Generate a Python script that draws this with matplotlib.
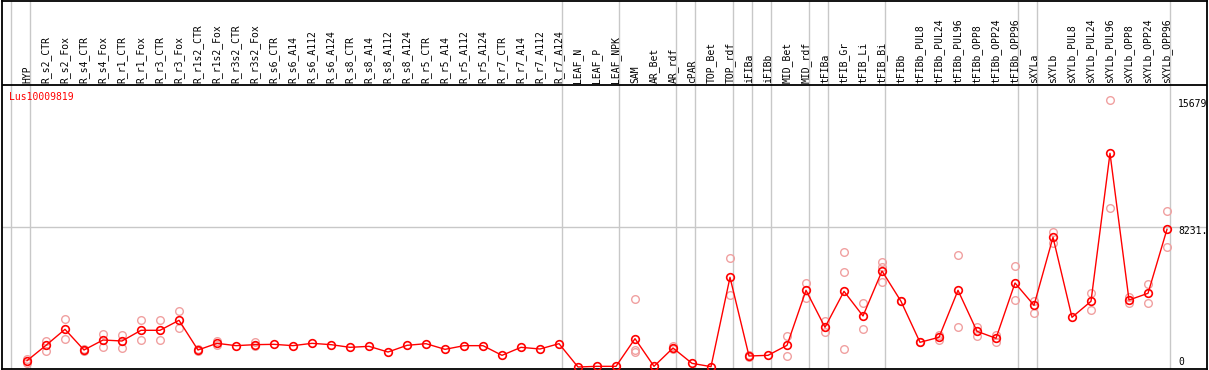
import matplotlib
matplotlib.use('Agg')
import matplotlib.pyplot as plt

# sample names (x axis, drawn as vertical labels on top)
categories = [
    'HYP', 'R_s2_CTR', 'R_s2_Fox', 'R_s4_CTR', 'R_s4_Fox', 'R_r1_CTR', 'R_r1_Fox',
    'R_r3_CTR', 'R_r3_Fox', 'R_r1s2_CTR', 'R_r1s2_Fox', 'R_r3s2_CTR', 'R_r3s2_Fox',
    'R_s6_CTR', 'R_s6_A14', 'R_s6_A112', 'R_s6_A124', 'R_s8_CTR', 'R_s8_A14',
    'R_s8_A112', 'R_s8_A124', 'R_r5_CTR', 'R_r5_A14', 'R_r5_A112', 'R_r5_A124',
    'R_r7_CTR', 'R_r7_A14', 'R_r7_A112', 'R_r7_A124', 'LEAF_N', 'LEAF_P', 'LEAF_NPK',
    'SAM', 'AR_Bet', 'AR_rdf', 'cPAR', 'TOP_Bet', 'TOP_rdf', 'iFIBa', 'iFIBb',
    'MID_Bet', 'MID_rdf', 'tFIBa', 'tFIB_Gr', 'tFIB_Li', 'tFIB_Bi', 'tFIBb',
    'tFIBb_PUL8', 'tFIBb_PUL24', 'tFIBb_PUL96', 'tFIBb_OPP8', 'tFIBb_OPP24',
    'tFIBb_OPP96', 'sXYLa', 'sXYLb', 'sXYLb_PUL8', 'sXYLb_PUL24', 'sXYLb_PUL96',
    'sXYLb_OPP8', 'sXYLb_OPP24', 'sXYLb_OPP96',
]

# mean expression per sample
means = [
    370, 1273, 2213, 998, 1585, 1527, 2155, 2155, 2742, 998, 1390, 1253, 1312,
    1331, 1253, 1390, 1312, 1155, 1214, 880, 1273, 1370, 1037, 1253, 1253,
    685, 1155, 1057, 1370, 0, 39, 39,
    1664, 39, 1115, 215, 20, 5267, 646, 685,
    1273, 4503, 2331, 4444, 2995, 5637, 3858,
    1450, 1744, 4503, 2096, 1685, 4933,
    3623, 7617, 2918, 3858, 12549, 3934, 4328, 8086,
]

# individual replicates per sample
replicates = [
    [480, 260], [1546, 957], [2800, 1626], [1075, 920], [1938, 1193], [1897, 1133],
    [2760, 1585], [2760, 1585], [3288, 2272], [1040, 950], [1546, 1310], [],
    [1487, 1233],
    [], [], [], [], [], [], [], [], [], [], [], [], [], [], [], [],
    [], [], [],
    [4011, 998, 880], [], [1233, 1040], [], [], [6383, 4210], [720, 580], [],
    [1838, 665], [4952, 4034], [2719, 2037], [6735, 5561, 1037], [3740, 2213],
    [6148, 5850, 4991], [3900],
    [1480], [1879, 1585], [6559, 2366], [2366, 1820], [1879, 1487], [5931, 3916],
    [3876, 3153], [7945, 7264], [], [4328, 3347], [15679, 9319], [4128, 3740],
    [4874, 3777], [9178, 7029],
]

# group separators come after these sample indices
group_ends = [-1, 0, 28, 31, 34, 35, 37, 38, 39, 41, 42, 45, 52, 53, 60]

gene = 'Lus10009819'
y_max = 15679
y_mid = 8231
right_labels = [(y_max, '15679', -4), (y_mid, '8231.', -4), (0, '0', 5)]

W, H = 1209, 370
K = 0.01703          # pixels per expression unit
Y0 = 367             # pixel row of zero

def py(p):
    return (Y0 - p) / K

def px(p):
    return (p - 27) / 19.0

mono = 'DejaVu Sans Mono'

fig = plt.figure(figsize=(W / 100, H / 100), dpi=100)
ax = fig.add_axes([1.5 / W, 1 / H, 1205.5 / W, 368 / H])
ax.set_xlim(px(1.5), px(1207))
ax.set_ylim(py(369), py(1))
ax.set_xticks([])
ax.set_yticks([])
for s in ax.spines.values():
    s.set_color('black')
    s.set_linewidth(1.3)

x = list(range(len(categories)))

for g in group_ends:
    ax.axvline(g + 0.18, color='#c8c8c8', lw=1.0, zorder=1)
ax.axhline(y_mid, color='#c8c8c8', lw=1.0, zorder=1)
ax.axhline(py(85), color='black', lw=1.3, zorder=2)

for i, reps in enumerate(replicates):
    if reps:
        ax.plot([i] * len(reps), reps, 'o', ms=5.5, mfc='none', mec='#f0a0a0',
                mew=1.0, zorder=3)

ax.plot(x, means, '-', color='red', lw=1.0, zorder=4)
ax.plot(x, means, 'o', ms=5.5, mfc='none', mec='red', mew=1.2, zorder=5)

for i, name in enumerate(categories):
    ax.text(i, py(83), name, rotation=90, ha='center', va='bottom',
            fontsize=7, family=mono, color='black')

ax.text(px(9), py(97), gene, ha='left', va='center', fontsize=7,
        family=mono, color='red')

for v, txt, off in right_labels:
    ax.annotate(txt, (px(1178), v), xytext=(0, off * 0.72), textcoords='offset points',
                ha='left', va='center', fontsize=7, family=mono, color='black')

fig.savefig('out.png', dpi=100)
